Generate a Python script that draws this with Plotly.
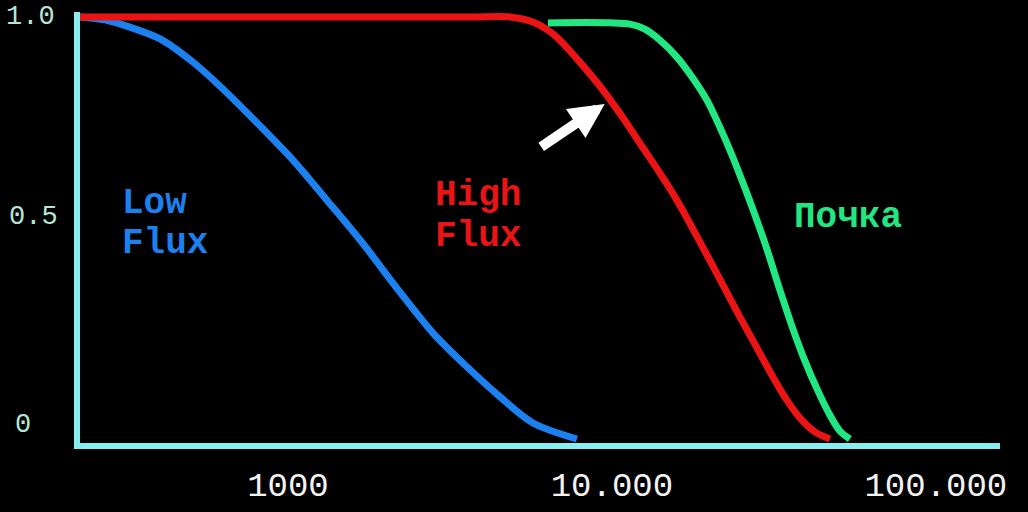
import math
import plotly.graph_objects as go

# Sieving curves: coefficient vs molecular weight (log scale)
low_flux_mw = [228, 272, 325, 403, 509, 617, 820, 1036, 1319, 1668, 2217, 2803, 3568, 4511, 5705, 7798]
low_flux_s = [1.0, 0.993, 0.976, 0.948, 0.893, 0.836, 0.742, 0.661, 0.566, 0.472, 0.348, 0.251, 0.171, 0.100, 0.038, 0.0]

high_flux_mw = [228, 3646, 4844, 5705, 6346, 6911, 7964, 9380, 10814, 12464, 14065, 15870, 17659,
                19648, 22007, 24843, 28031, 31405, 34687, 38036, 42311, 47081]
high_flux_s = [1.0, 1.0, 1.0, 0.988, 0.969, 0.945, 0.893, 0.827, 0.761, 0.690, 0.630, 0.566, 0.502,
               0.436, 0.365, 0.289, 0.216, 0.147, 0.092, 0.050, 0.017, 0.0]

kidney_mw = [6346, 11367, 12645, 14065, 15870, 17783, 19648, 21544, 23466, 25371, 27632, 30090,
             33003, 36197, 39420, 43236, 47081, 50535, 54270]
kidney_s = [0.986, 0.983, 0.971, 0.945, 0.905, 0.855, 0.803, 0.739, 0.673, 0.607, 0.531, 0.450,
            0.353, 0.261, 0.185, 0.114, 0.057, 0.019, 0.0]

x_tick_vals = [1000, 10000, 100000]
x_tick_text = ["1000", "10.000", "100.000"]
y_tick_vals = [1.0, 0.5, 0.0]
y_tick_text = ["1.0", "0.5", "0"]

BLUE = "#1c80ee"
RED = "#ea1414"
GREEN = "#22e682"
AXIS = "#86eeee"
MONO = "Liberation Mono, Courier New, monospace"

fig = go.Figure()
for xs, ys, col in [(low_flux_mw, low_flux_s, BLUE),
                    (high_flux_mw, high_flux_s, RED),
                    (kidney_mw, kidney_s, GREEN)]:
    fig.add_trace(go.Scatter(x=xs, y=ys, mode="lines",
                             line=dict(color=col, width=7, shape="spline", smoothing=0.85),
                             hoverinfo="skip", showlegend=False))

fig.update_layout(
    width=1028, height=512,
    margin=dict(l=80, r=28, t=12, b=69),
    paper_bgcolor="#000000", plot_bgcolor="#000000",
    showlegend=False,
)
fig.update_xaxes(
    type="log", range=[2.358, 5.198], automargin=False,
    showgrid=False, zeroline=False,
    showline=True, linecolor=AXIS, linewidth=6,
    tickvals=x_tick_vals, ticktext=x_tick_text, ticks="",
    ticklabelstandoff=6,
    tickfont=dict(family=MONO, size=34, color="#f2f2f2"),
)
fig.update_yaxes(
    range=[-0.0095, 1.0118], automargin=False,
    showgrid=False, zeroline=False,
    showline=True, linecolor=AXIS, linewidth=6,
    showticklabels=False, ticks="",
)

# y tick labels, left-aligned near the page edge
for v, t, px, dy in zip(y_tick_vals, y_tick_text, [-0.0826, -0.0793, -0.0728], [0, 11, 14]):
    fig.add_annotation(x=px, xref="paper", xanchor="left", y=v, yref="y",
                       yanchor="middle", yshift=dy, text=t, showarrow=False,
                       font=dict(family=MONO, size=27, color="#b4e6d6"))

def label(text, mw, s, col):
    fig.add_annotation(x=math.log10(mw), y=s, xref="x", yref="y",
                       xanchor="left", yanchor="middle", text=text, showarrow=False,
                       font=dict(family=MONO, size=36, color=col, weight="bold"))

label("Low", 303, 0.557, BLUE)
label("Flux", 303, 0.464, BLUE)
label("High", 2803, 0.576, RED)
label("Flux", 2803, 0.479, RED)
label("Почка", 35950, 0.526, GREEN)

# arrow pointing at the high-flux curve
fig.add_annotation(x=math.log10(9500), y=0.794, xref="x", yref="y",
                   ax=-65, ay=44, showarrow=True, arrowcolor="#ffffff",
                   arrowwidth=10, arrowhead=2, arrowsize=0.7, standoff=0, text="")

fig.write_html("out.html")
